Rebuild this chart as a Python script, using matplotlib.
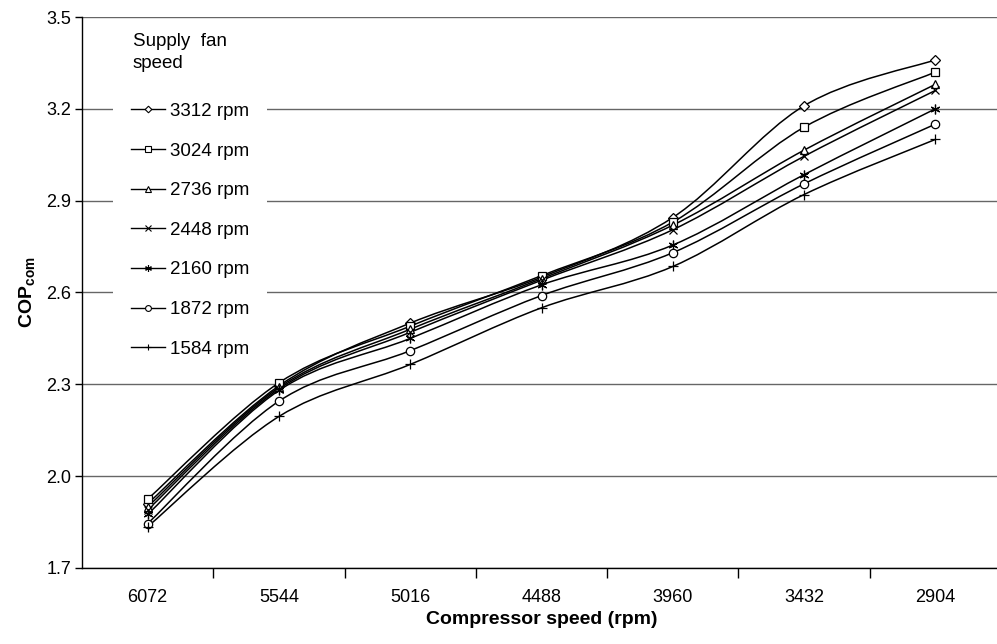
import numpy as np
import matplotlib.pyplot as plt
from matplotlib.path import Path
from matplotlib.patches import PathPatch
from matplotlib.lines import Line2D

plt.rcParams['font.family'] = ['Liberation Sans', 'DejaVu Sans']
plt.rcParams['mathtext.fontset'] = 'custom'
plt.rcParams['mathtext.rm'] = 'Liberation Sans'
plt.rcParams['mathtext.bf'] = 'Liberation Sans:bold'

# Data
compressor_speed = ["6072", "5544", "5016", "4488", "3960", "3432", "2904"]
fan_speed = ["3312 rpm", "3024 rpm", "2736 rpm", "2448 rpm", "2160 rpm", "1872 rpm", "1584 rpm"]
cop_3312 = [1.91, 2.295, 2.50, 2.65, 2.845, 3.21, 3.36]
cop_3024 = [1.925, 2.305, 2.49, 2.655, 2.83, 3.14, 3.32]
cop_2736 = [1.90, 2.29, 2.48, 2.645, 2.82, 3.065, 3.28]
cop_2448 = [1.89, 2.285, 2.47, 2.64, 2.805, 3.045, 3.26]
cop_2160 = [1.875, 2.28, 2.45, 2.625, 2.755, 2.985, 3.20]
cop_1872 = [1.845, 2.245, 2.41, 2.59, 2.73, 2.955, 3.15]
cop_1584 = [1.835, 2.195, 2.365, 2.55, 2.685, 2.92, 3.10]

series = [cop_3312, cop_3024, cop_2736, cop_2448, cop_2160, cop_1872, cop_1584]
markers = ["D", "s", "^", "x", (6, 2, 0), "o", "+"]
msizes = [4.8, 5.5, 5.5, 6, 7, 6, 7]


def smooth_path(x, y):
    # Excel-like smoothed line (Catmull-Rom as cubic Bezier segments)
    pts = np.column_stack([x, y]).astype(float)
    n = len(pts)
    verts = [pts[0]]
    codes = [Path.MOVETO]
    for i in range(n - 1):
        p0 = pts[max(i - 1, 0)]
        p1 = pts[i]
        p2 = pts[i + 1]
        p3 = pts[min(i + 2, n - 1)]
        c1 = p1 + (p2 - p0) / 6.0
        c2 = p2 - (p3 - p1) / 6.0
        verts += [c1, c2, p2]
        codes += [Path.CURVE4] * 3
    return Path(verts, codes)


fig = plt.figure(figsize=(9.97, 6.44), dpi=100)
ax = fig.add_axes([82 / 997, 76 / 644, 919 / 997, 551 / 644])

x = np.arange(len(compressor_speed))
handles = []
for vals, mk, ms, lab in zip(series, markers, msizes, fan_speed):
    ax.add_patch(PathPatch(smooth_path(x, vals), fill=False, edgecolor="black",
                           lw=1.1, zorder=3))
    ax.plot(x, vals, linestyle="none", marker=mk, markersize=ms, color="black",
            markerfacecolor="white", markeredgewidth=0.9, zorder=4)
    handles.append(Line2D([], [], color="black", lw=1.0, marker=mk, markersize=ms * 0.7,
                          markerfacecolor="white", markeredgewidth=0.8, label=lab))

ax.set_xlim(-0.5, len(compressor_speed) - 0.5)
ax.set_ylim(1.7, 3.5)
ax.set_yticks(np.arange(1.7, 3.51, 0.3))
ax.set_yticklabels([f"{v:.1f}" for v in np.arange(1.7, 3.51, 0.3)], fontsize=13)
ax.set_xticks(x)
ax.set_xticklabels(compressor_speed, fontsize=13)
ax.set_xticks(np.arange(0.5, len(compressor_speed) - 1, 1.0), minor=True)
ax.tick_params(axis="x", which="major", length=0, pad=15)
ax.tick_params(axis="x", which="minor", length=7, width=1, color="black")
ax.tick_params(axis="y", length=5, width=1, pad=3)

ax.grid(axis="y", color="#666666", lw=1.0, zorder=0)
ax.set_axisbelow(True)
for s in ["top", "right"]:
    ax.spines[s].set_visible(False)
for s in ["left", "bottom"]:
    ax.spines[s].set_linewidth(1.0)
    ax.spines[s].set_zorder(5)

ax.set_xlabel("Compressor speed (rpm)", fontsize=14, fontweight="bold", labelpad=4)
ax.set_ylabel("COP$_{\\mathregular{com}}$", fontsize=14, fontweight="bold", labelpad=6)

# legend title drawn as separate text, entries as a frameless white box
fig.text(133 / 997, 1 - 33 / 644, "Supply  fan\nspeed", fontsize=13.5, ha="left", va="top",
         linespacing=1.4)
leg = ax.legend(handles=handles, loc="upper left",
                bbox_to_anchor=(113 / 997, 1 - 85 / 644), bbox_transform=fig.transFigure,
                fontsize=13.5, frameon=True, fancybox=False,
                edgecolor="none", facecolor="white", framealpha=1,
                handlelength=1.8, handletextpad=0.3, labelspacing=1.2,
                borderpad=0.95, borderaxespad=0)
leg.set_zorder(6)

fig.savefig("out.png", dpi=100)
